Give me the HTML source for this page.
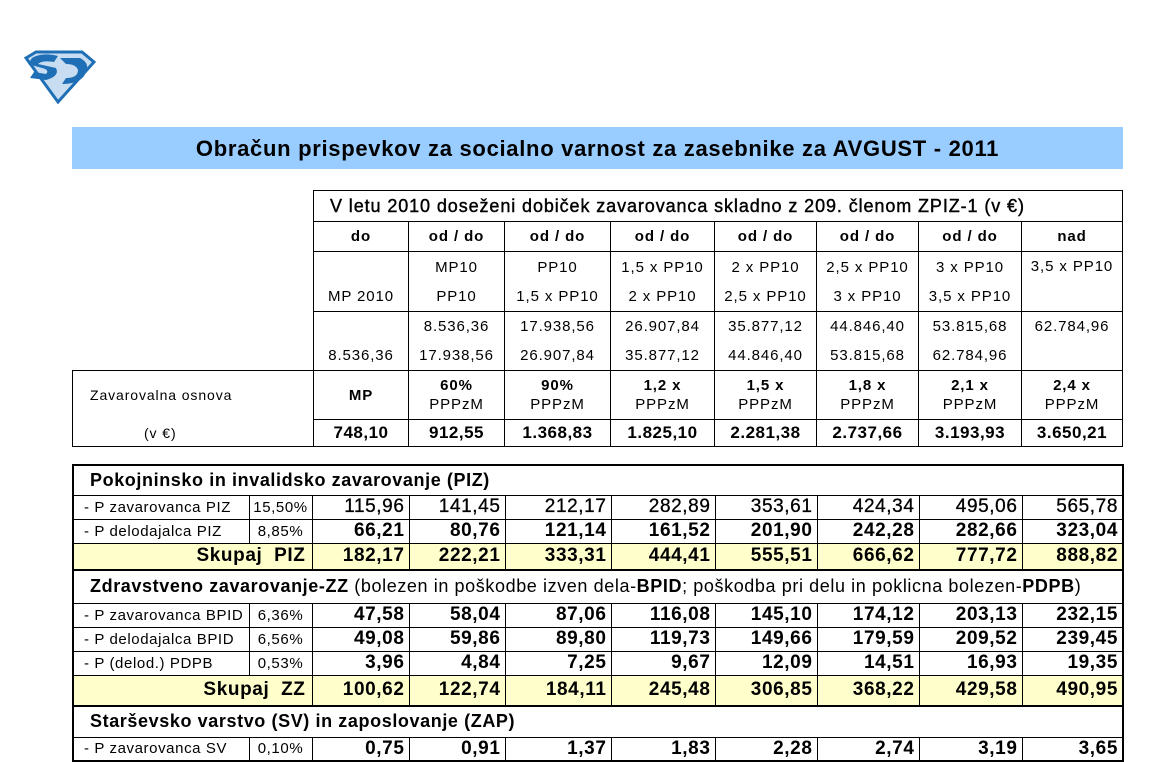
<!DOCTYPE html>
<html><head><meta charset="utf-8">
<style>
html,body{margin:0;padding:0;background:#fff;width:1157px;height:743px;overflow:hidden;font-family:"Liberation Sans",Arial,sans-serif;color:#000}
.banner{position:absolute;left:72px;top:127px;width:1051px;height:42px;background:#99ccff;text-align:center;font-weight:bold;font-size:22px;line-height:44px;letter-spacing:0.7px}
table{position:absolute;border-collapse:collapse;table-layout:fixed}
td{padding:0;overflow:hidden;white-space:nowrap}
#t1{left:72px;top:190px}
#t1 td.b{border:1.5px solid #000}
#t1 td{text-align:center;font-size:15px;letter-spacing:0.9px}
.hd{font-weight:bold;font-size:17px}
#t1 td.hv{font-weight:bold;font-size:17px;letter-spacing:0.5px}
#t2{left:72px;top:464px}
#t2 td{border:1px solid #000;font-size:15px;letter-spacing:0.6px}
#t2 td.l{padding-left:10px}
#t2 td.v{text-align:right;font-weight:bold;font-size:19px;padding-right:4px;letter-spacing:0.6px}
#t2 tr.y td{background:#ffffcc;font-size:19px;font-weight:bold}
#t2 td.sec{font-size:18px;padding-left:16px;border-top:2px solid #000;letter-spacing:0.6px}
#t2 td.p{text-align:center}
</style></head><body>
<svg style="position:absolute;left:22px;top:50px" width="74" height="54" viewBox="0 0 74 54">
<path d="M4 8 L14 2 L60 2 L72 12 L36 52 Z" fill="#c8ddf2" stroke="#1e6fb5" stroke-width="3"/>
<path d="M10 8 Q20 2 36 6 L32 12 Q20 10 16 14 L34 18 Q38 26 24 30 L8 28 L12 22 L24 24 Q28 20 20 18 L6 14 Z" fill="#1e6fb5"/>
<path d="M38 8 L58 8 Q70 14 62 26 Q56 34 40 34 L44 28 Q56 28 56 20 Q54 14 44 14 Z" fill="#1e6fb5"/>
</svg>
<div class="banner">Obračun prispevkov za socialno varnost za zasebnike za AVGUST - 2011</div>

<table id="t1">
<colgroup><col style="width:241px"><col style="width:95px"><col style="width:96px"><col style="width:106px"><col style="width:104px"><col style="width:102px"><col style="width:102px"><col style="width:103px"><col style="width:101px"></colgroup>
<tr style="height:31px"><td></td><td class="b" colspan="8" style="text-align:left;padding-left:16px;font-size:18px;letter-spacing:0.9px;-webkit-text-stroke:0.4px #000">V letu 2010 doseženi dobiček zavarovanca skladno z 209. členom ZPIZ-1 (v €)</td></tr>
<tr style="height:30px"><td></td><td class="b hd">do</td><td class="b hd">od / do</td><td class="b hd">od / do</td><td class="b hd">od / do</td><td class="b hd">od / do</td><td class="b hd">od / do</td><td class="b hd">od / do</td><td class="b hd">nad</td></tr>
<tr style="height:60px"><td></td><td class="b" style="line-height:29px"><br>MP 2010</td><td class="b" style="line-height:29px">MP10<br>PP10</td><td class="b" style="line-height:29px">PP10<br>1,5 x PP10</td><td class="b" style="line-height:29px">1,5 x PP10<br>2 x PP10</td><td class="b" style="line-height:29px">2 x PP10<br>2,5 x PP10</td><td class="b" style="line-height:29px">2,5 x PP10<br>3 x PP10</td><td class="b" style="line-height:29px">3 x PP10<br>3,5 x PP10</td><td class="b" style="line-height:29px;vertical-align:top">3,5 x PP10</td></tr>
<tr style="height:58px"><td></td><td class="b" style="line-height:29px"><br>8.536,36</td><td class="b" style="line-height:29px">8.536,36<br>17.938,56</td><td class="b" style="line-height:29px">17.938,56<br>26.907,84</td><td class="b" style="line-height:29px">26.907,84<br>35.877,12</td><td class="b" style="line-height:29px">35.877,12<br>44.846,40</td><td class="b" style="line-height:29px">44.846,40<br>53.815,68</td><td class="b" style="line-height:29px">53.815,68<br>62.784,96</td><td class="b" style="line-height:29px;vertical-align:top">62.784,96</td></tr>
<tr style="height:49px"><td class="b" style="text-align:left;padding-left:17px;border-bottom:none;font-size:14px">Zavarovalna osnova</td><td class="b" style="font-weight:bold">MP</td><td class="b" style="line-height:19px"><b>60%</b><br>PPPzM</td><td class="b" style="line-height:19px"><b>90%</b><br>PPPzM</td><td class="b" style="line-height:19px"><b>1,2 x</b><br>PPPzM</td><td class="b" style="line-height:19px"><b>1,5 x</b><br>PPPzM</td><td class="b" style="line-height:19px"><b>1,8 x</b><br>PPPzM</td><td class="b" style="line-height:19px"><b>2,1 x</b><br>PPPzM</td><td class="b" style="line-height:19px"><b>2,4 x</b><br>PPPzM</td></tr>
<tr style="height:27px"><td class="b" style="text-align:left;padding-left:71px;border-top:none;font-size:14px">(v €)</td><td class="b hv">748,10</td><td class="b hv">912,55</td><td class="b hv">1.368,83</td><td class="b hv">1.825,10</td><td class="b hv">2.281,38</td><td class="b hv">2.737,66</td><td class="b hv">3.193,93</td><td class="b hv">3.650,21</td></tr>
</table>

<table id="t2" style="border:2px solid #000">
<colgroup><col style="width:176px"><col style="width:63px"><col style="width:97px"><col style="width:96px"><col style="width:106px"><col style="width:104px"><col style="width:102px"><col style="width:102px"><col style="width:103px"><col style="width:101px"></colgroup>
<tr style="height:30px"><td class="sec" colspan="10"><b>Pokojninsko in invalidsko zavarovanje (PIZ)</b></td></tr>
<tr style="height:24px"><td class="l">- P zavarovanca PIZ</td><td class="p">15,50%</td><td class="v" style="font-weight:normal;-webkit-text-stroke:0.3px">115,96</td><td class="v" style="font-weight:normal;-webkit-text-stroke:0.3px">141,45</td><td class="v" style="font-weight:normal;-webkit-text-stroke:0.3px">212,17</td><td class="v" style="font-weight:normal;-webkit-text-stroke:0.3px">282,89</td><td class="v" style="font-weight:normal;-webkit-text-stroke:0.3px">353,61</td><td class="v" style="font-weight:normal;-webkit-text-stroke:0.3px">424,34</td><td class="v" style="font-weight:normal;-webkit-text-stroke:0.3px">495,06</td><td class="v" style="font-weight:normal;-webkit-text-stroke:0.3px">565,78</td></tr>
<tr style="height:24px"><td class="l">- P delodajalca PIZ</td><td class="p">8,85%</td><td class="v">66,21</td><td class="v">80,76</td><td class="v">121,14</td><td class="v">161,52</td><td class="v">201,90</td><td class="v">242,28</td><td class="v">282,66</td><td class="v">323,04</td></tr>
<tr class="y" style="height:27px"><td colspan="2" style="text-align:right;padding-right:6px">Skupaj&nbsp; PIZ</td><td class="v">182,17</td><td class="v">222,21</td><td class="v">333,31</td><td class="v">444,41</td><td class="v">555,51</td><td class="v">666,62</td><td class="v">777,72</td><td class="v">888,82</td></tr>
<tr style="height:33px"><td class="sec" colspan="10"><b>Zdravstveno zavarovanje-ZZ</b> (bolezen in poškodbe izven dela-<b>BPID</b>; poškodba pri delu in poklicna bolezen-<b>PDPB</b>)</td></tr>
<tr style="height:24px"><td class="l">- P zavarovanca BPID</td><td class="p">6,36%</td><td class="v">47,58</td><td class="v">58,04</td><td class="v">87,06</td><td class="v">116,08</td><td class="v">145,10</td><td class="v">174,12</td><td class="v">203,13</td><td class="v">232,15</td></tr>
<tr style="height:24px"><td class="l">- P delodajalca BPID</td><td class="p">6,56%</td><td class="v">49,08</td><td class="v">59,86</td><td class="v">89,80</td><td class="v">119,73</td><td class="v">149,66</td><td class="v">179,59</td><td class="v">209,52</td><td class="v">239,45</td></tr>
<tr style="height:24px"><td class="l">- P (delod.) PDPB</td><td class="p">0,53%</td><td class="v">3,96</td><td class="v">4,84</td><td class="v">7,25</td><td class="v">9,67</td><td class="v">12,09</td><td class="v">14,51</td><td class="v">16,93</td><td class="v">19,35</td></tr>
<tr class="y" style="height:31px"><td colspan="2" style="text-align:right;padding-right:6px">Skupaj&nbsp; ZZ</td><td class="v">100,62</td><td class="v">122,74</td><td class="v">184,11</td><td class="v">245,48</td><td class="v">306,85</td><td class="v">368,22</td><td class="v">429,58</td><td class="v">490,95</td></tr>
<tr style="height:31px"><td class="sec" colspan="10"><b>Starševsko varstvo (SV) in zaposlovanje (ZAP)</b></td></tr>
<tr style="height:24px"><td class="l">- P zavarovanca SV</td><td class="p">0,10%</td><td class="v">0,75</td><td class="v">0,91</td><td class="v">1,37</td><td class="v">1,83</td><td class="v">2,28</td><td class="v">2,74</td><td class="v">3,19</td><td class="v">3,65</td></tr>
</table>
</body></html>
